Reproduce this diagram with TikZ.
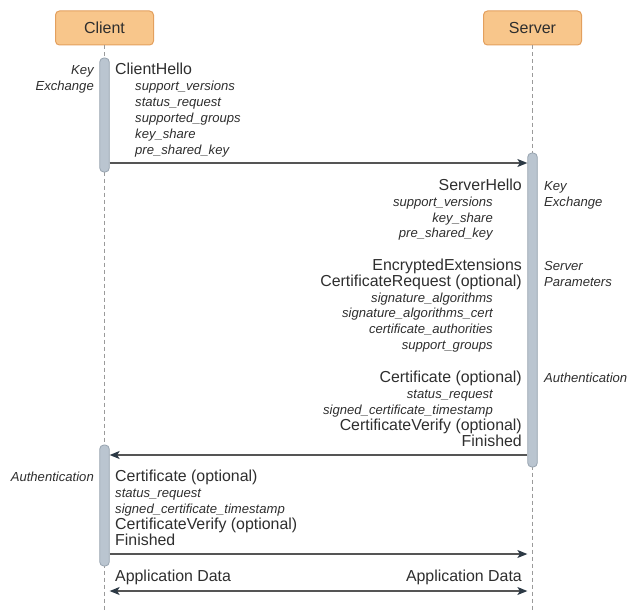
\documentclass[tikz,border=0pt]{standalone}
\usepackage{fontspec}
\setmainfont{Liberation Sans}
\usetikzlibrary{arrows.meta}
\definecolor{boxfill}{HTML}{F8C68B}
\definecolor{boxline}{HTML}{E3A05E}
\definecolor{barfill}{HTML}{BAC5D0}
\definecolor{barline}{HTML}{98A4B0}
\definecolor{txt}{HTML}{2E2E2E}
\definecolor{arr}{HTML}{555555}
\definecolor{tipc}{HTML}{2C3945}
\definecolor{lifec}{HTML}{9A9A9A}
\begin{document}
\begin{tikzpicture}[x=1pt,y=-1pt,
  actor/.style={draw=boxline, fill=boxfill, line width=1pt, rounded corners=4pt,
    minimum width=98pt, minimum height=34pt, inner sep=0pt, text=txt,
    font=\fontsize{16}{18}\selectfont},
  bar/.style={draw=barline, fill=barfill, line width=0.8pt, rounded corners=4pt,
    minimum width=9.5pt, inner sep=0pt},
  lifeline/.style={draw=lifec, dash pattern=on 4pt off 3pt, line width=0.9pt},
  msg/.style={draw=arr, line width=1.2pt, -{Stealth[length=10pt,width=8pt,inset=2.5pt,color=tipc]}},
  dmsg/.style={draw=arr, line width=1.2pt, {Stealth[length=10pt,width=8pt,inset=2.5pt,color=tipc]}-{Stealth[length=10pt,width=8pt,inset=2.5pt,color=tipc]}},
  mtxt/.style={font=\fontsize{15.9}{18}\selectfont, text=txt, inner sep=0pt},
  stxt/.style={font=\fontsize{13.1}{16}\selectfont\itshape, text=txt, inner sep=0pt}
]
\useasboundingbox (0,0) rectangle (628,615);

% actors
\node[actor] (client) at (104.5,28) {Client};
\node[actor] (server) at (532.5,28) {Server};
\coordinate (cend) at (104.5,612);
\coordinate (send) at (532.5,612);
\draw[lifeline] (client.south) -- (cend);
\draw[lifeline] (server.south) -- (send);

% activation bars
\node[bar, minimum height=114pt] (cb1) at (104.5,115) {};
\node[bar, minimum height=314pt] (sb) at (532.5,310) {};
\node[bar, minimum height=121pt] (cb2) at (104.5,505.5) {};

% messages
\draw[msg] (cb1.east |- 0,163) -- (sb.west |- 0,163);
\draw[msg] (sb.west |- 0,455) -- (cb2.east |- 0,455);
\draw[msg] (cb2.east |- 0,554) -- (sb.west |- 0,554);
\draw[dmsg] (cb2.east |- 0,591) -- (sb.west |- 0,591);

% ClientHello
\node[stxt, anchor=base east] (ckx1) at (94,74.5) {Key};
\node[stxt, anchor=base east] (ckx2) at (94,90.5) {Exchange};
\node[mtxt, anchor=base west] (ch) at (115,74.5) {ClientHello};
\foreach \t [count=\i] in {support\_versions, status\_request, supported\_groups, key\_share, pre\_shared\_key}
  \node[stxt, anchor=base west] (ch\i) at (135,{74.5+16*\i}) {\t};

% ServerHello
\node[mtxt, anchor=base east] (sh) at (522,190.5) {ServerHello};
\foreach \t [count=\i] in {support\_versions, key\_share, pre\_shared\_key}
  \node[stxt, anchor=base east] (sh\i) at (493,{190.5+15.8*\i}) {\t};
\node[stxt, anchor=base west] (skx1) at (544,190.5) {Key};
\node[stxt, anchor=base west] (skx2) at (544,206.3) {Exchange};

% Server parameters
\node[mtxt, anchor=base east] (ee) at (522,270.5) {EncryptedExtensions};
\node[mtxt, anchor=base east] (cr) at (522,286.3) {CertificateRequest (optional)};
\foreach \t [count=\i] in {signature\_algorithms, signature\_algorithms\_cert, certificate\_authorities, support\_groups}
  \node[stxt, anchor=base east] (cr\i) at (493,{286.3+15.8*\i}) {\t};
\node[stxt, anchor=base west] (sp1) at (544,270.5) {Server};
\node[stxt, anchor=base west] (sp2) at (544,286.3) {Parameters};

% Server authentication
\node[mtxt, anchor=base east] (scert) at (522,382) {Certificate (optional)};
\node[stxt, anchor=base east] (scert1) at (493,398) {status\_request};
\node[stxt, anchor=base east] (scert2) at (493,414) {signed\_certificate\_timestamp};
\node[mtxt, anchor=base east] (scv) at (522,430) {CertificateVerify (optional)};
\node[mtxt, anchor=base east] (sfin) at (522,446) {Finished};
\node[stxt, anchor=base west] (sauth) at (544,382) {Authentication};

% Client authentication
\node[stxt, anchor=base east] (cauth) at (94,481) {Authentication};
\node[mtxt, anchor=base west] (ccert) at (115,481) {Certificate (optional)};
\node[stxt, anchor=base west] (ccert1) at (115,497) {status\_request};
\node[stxt, anchor=base west] (ccert2) at (115,513) {signed\_certificate\_timestamp};
\node[mtxt, anchor=base west] (ccv) at (115,529) {CertificateVerify (optional)};
\node[mtxt, anchor=base west] (cfin) at (115,545) {Finished};

% Application data
\node[mtxt, anchor=base west] (adc) at (115,581) {Application Data};
\node[mtxt, anchor=base east] (ads) at (522,581) {Application Data};
\end{tikzpicture}
\end{document}
